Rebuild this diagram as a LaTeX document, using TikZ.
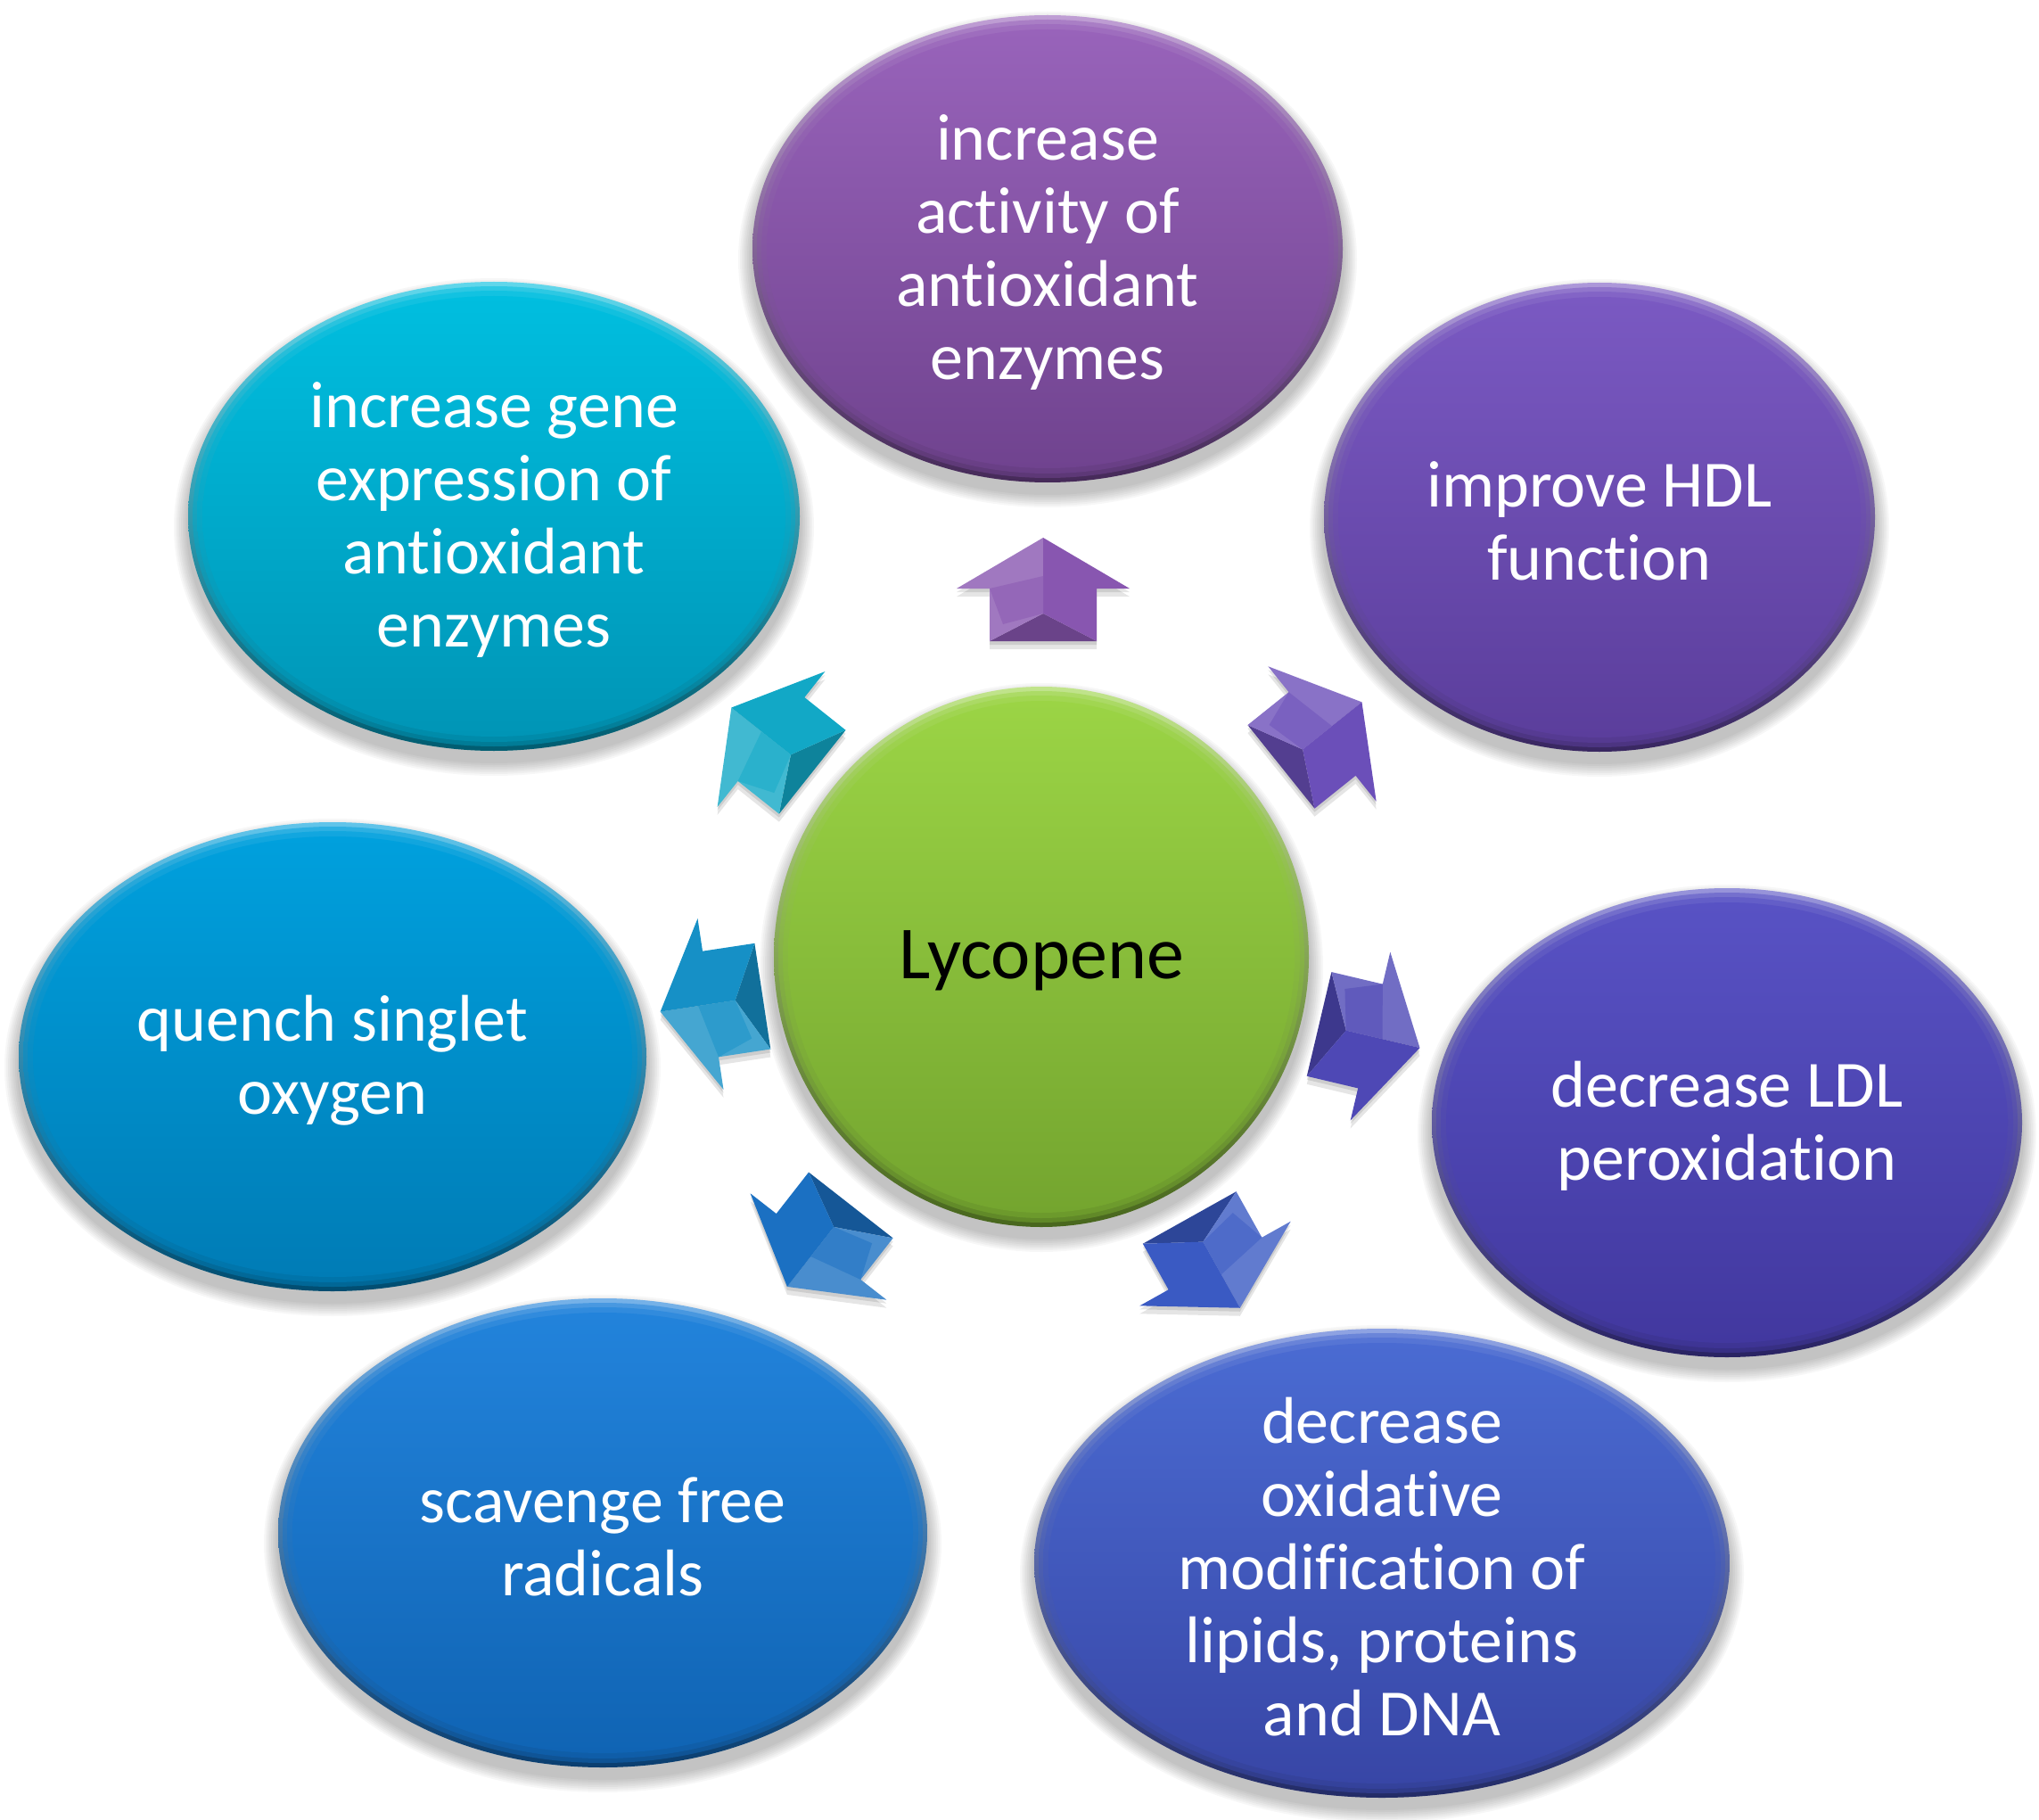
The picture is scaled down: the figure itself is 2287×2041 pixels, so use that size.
\documentclass[tikz,border=0pt]{standalone}
\usepackage{fontspec}
\setmainfont[Ligatures={NoCommon}]{Carlito}
\usetikzlibrary{shapes.geometric}
\definecolor{c1t}{HTML}{9863BA}\definecolor{c1b}{HTML}{70438F}
\definecolor{c2t}{HTML}{7A59C2}\definecolor{c2b}{HTML}{5B3E9C}
\definecolor{c3t}{HTML}{5852C4}\definecolor{c3b}{HTML}{42389F}
\definecolor{c4t}{HTML}{4A6BD2}\definecolor{c4b}{HTML}{3846A6}
\definecolor{c5t}{HTML}{2283DB}\definecolor{c5b}{HTML}{1064B4}
\definecolor{c6t}{HTML}{00A0DD}\definecolor{c6b}{HTML}{007CB6}
\definecolor{c7t}{HTML}{00BEDF}\definecolor{c7b}{HTML}{0095B6}
\definecolor{cgt}{HTML}{9BD445}\definecolor{cgb}{HTML}{74A52F}
\definecolor{a1}{HTML}{8856B0}\definecolor{a2}{HTML}{6B4FB9}
\definecolor{a3}{HTML}{4E48B5}\definecolor{a4}{HTML}{3A5AC3}
\definecolor{a5}{HTML}{1B70C2}\definecolor{a6}{HTML}{1690C6}
\definecolor{a7}{HTML}{12A8C6}
\tikzset{
  bub/.style={ellipse, inner sep=0pt, outer sep=0pt},
  bubtext/.style={text=white, align=center, inner sep=0pt, yshift=-4pt, font=\fontsize{74}{82}\selectfont},
  centertext/.style={text=black, align=center, inner sep=0pt, yshift=-4pt, font=\fontsize{84}{92}\selectfont}
}
\newcommand\mybubble[9]{%
  \foreach \k in {1,...,8}{%
    \fill[black,opacity=0.03] (#2,#3+12) ellipse [x radius={(#4+18-2*\k)*1pt}, y radius={(#5+18-2*\k)*1pt}];
  }%
  \node[bub, minimum width={2*#4*1pt}, minimum height={2*#5*1pt},
        top color=#6!62!white, bottom color=#7!62!black,
        path picture={
          \shade[top color=#6!82!white, bottom color=#7!82!black] (path picture bounding box.center) ellipse [x radius={(#4-5)*1pt}, y radius={(#5-5)*1pt}];
          \shade[top color=#6!93!white, bottom color=#7!93!black] (path picture bounding box.center) ellipse [x radius={(#4-10)*1pt}, y radius={(#5-10)*1pt}];
          \shade[top color=#6, bottom color=#7] (path picture bounding box.center) ellipse [x radius={(#4-16)*1pt}, y radius={(#5-16)*1pt}];
        }] (#1) at (#2,#3) {};
  \node[#8] (#1-t) at (#1.center) {#9};
}
\newcommand\myarrow[4]{%
  \begin{scope}[shift={(#1,#2+9)}, rotate=#3, x=1pt, y=1pt]
    \fill[black,opacity=0.10] (-59,-60) -- (-59,60) -- (0,60) -- (0,97) -- (57,0) -- (0,-97) -- (0,-60) -- cycle;
  \end{scope}
  \begin{scope}[shift={(#1,#2+4)}, rotate=#3, x=1pt, y=1pt]
    \fill[black,opacity=0.10] (-59,-60) -- (-59,60) -- (0,60) -- (0,97) -- (57,0) -- (0,-97) -- (0,-60) -- cycle;
  \end{scope}
  \begin{scope}[shift={(#1,#2)}, rotate=#3, x=1pt, y=1pt]
    \fill[#4!78!black] (-59,-60) -- (-59,60) -- (-28,0) -- cycle;
    \fill[#4!80!white] (-59,60) -- (0,60) -- (0,97) -- (57,0) -- (14,0) -- (-28,0) -- cycle;
    \fill[#4] (-59,-60) -- (0,-60) -- (0,-97) -- (57,0) -- (14,0) -- (-28,0) -- cycle;
    \fill[#4!90!white] (-28,0) -- (14,0) -- (0,60) -- (-40,45) -- cycle;
  \end{scope}
}
\begin{document}
\begin{tikzpicture}[x=1pt,y=-1pt]
\fill[white] (0,0) rectangle (2287,2041);
\useasboundingbox (0,0) rectangle (2287,2041);

\mybubble{top}{1175}{279}{331}{262}{c1t}{c1b}{bubtext}{increase\\activity of\\antioxidant\\enzymes}
\mybubble{tr}{1794}{580}{309}{263}{c2t}{c2b}{bubtext}{improve HDL\\function}
\mybubble{rt}{1937}{1259}{331}{263}{c3t}{c3b}{bubtext}{decrease LDL\\peroxidation}
\mybubble{br}{1550}{1753}{390}{263}{c4t}{c4b}{bubtext}{decrease\\oxidative\\modification of\\lipids, proteins\\and DNA}
\mybubble{bl}{676}{1719}{364}{263}{c5t}{c5b}{bubtext}{scavenge free\\radicals}
\mybubble{lf}{373}{1185}{352}{263}{c6t}{c6b}{bubtext}{quench singlet\\oxygen}
\mybubble{tl}{554}{579}{343}{263}{c7t}{c7b}{bubtext}{increase gene\\expression of\\antioxidant\\enzymes}
\mybubble{lyc}{1168}{1073}{300}{303}{cgt}{cgb}{centertext}{Lycopene}

\myarrow{1170}{660}{90}{a1}
\myarrow{1483}{823}{38.7}{a2}
\myarrow{1537}{1162}{-13.3}{a3}
\myarrow{1363}{1417}{-60.8}{a4}
\myarrow{918}{1398}{-128}{a5}
\myarrow{797}{1126}{-171.4}{a6}
\myarrow{865}{829}{141.5}{a7}
\end{tikzpicture}
\end{document}
